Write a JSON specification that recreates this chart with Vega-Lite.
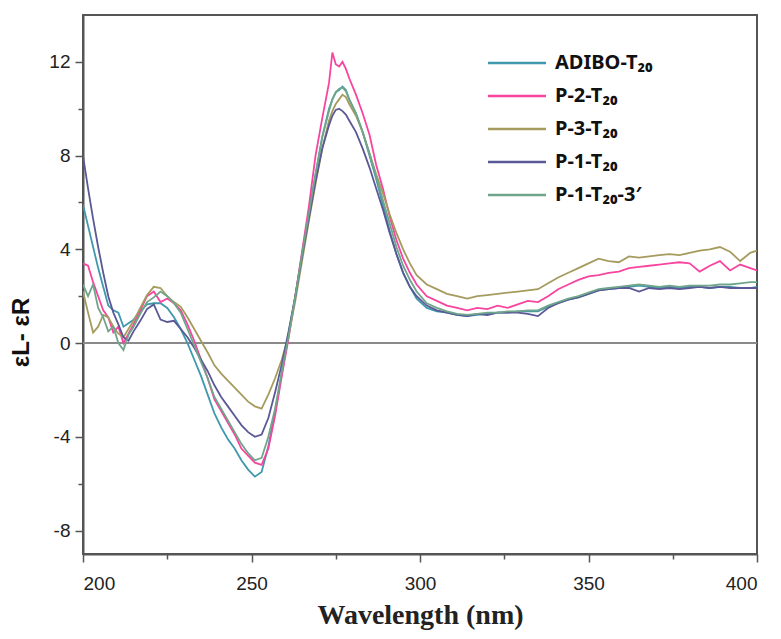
{
  "$schema": "https://vega.github.io/schema/vega-lite/v6.json",
  "width": 674,
  "height": 539,
  "autosize": "none",
  "padding": {"left": 83, "top": 15, "right": 24, "bottom": 85},
  "background": "white",
  "view": {"stroke": "#555555", "strokeWidth": 2},
  "data": {"values": [
    {"x":200,"A":5.9,"B":3.4,"C":2.2,"D":8.0,"E":2.5},
    {"x":201.5,"A":5.0,"B":3.3,"C":1.3,"D":6.6,"E":2.0},
    {"x":203,"A":4.1,"B":2.6,"C":0.45,"D":5.3,"E":2.5},
    {"x":204.5,"A":3.2,"B":2.0,"C":0.7,"D":4.1,"E":1.5},
    {"x":206,"A":2.4,"B":1.4,"C":1.2,"D":3.0,"E":1.1},
    {"x":207.5,"A":1.6,"B":1.1,"C":1.1,"D":2.0,"E":0.5},
    {"x":209,"A":1.4,"B":0.45,"C":0.7,"D":1.3,"E":0.7},
    {"x":210.5,"A":1.3,"B":0.7,"C":0.4,"D":0.8,"E":0.0},
    {"x":212,"A":0.7,"B":0.0,"C":0.25,"D":0.25,"E":-0.3},
    {"x":213.5,"A":0.85,"B":0.4,"C":0.6,"D":0.1,"E":0.35},
    {"x":215,"A":1.0,"B":0.8,"C":0.95,"D":0.5,"E":0.7},
    {"x":217,"A":1.35,"B":1.4,"C":1.5,"D":0.95,"E":1.25},
    {"x":219,"A":1.65,"B":2.0,"C":2.05,"D":1.45,"E":1.75},
    {"x":221,"A":1.7,"B":2.2,"C":2.4,"D":1.65,"E":1.95},
    {"x":223,"A":1.7,"B":1.75,"C":2.35,"D":1.0,"E":2.2},
    {"x":225,"A":1.5,"B":1.9,"C":2.0,"D":0.9,"E":2.0},
    {"x":227,"A":1.1,"B":1.7,"C":1.75,"D":0.95,"E":1.7},
    {"x":229,"A":0.6,"B":1.4,"C":1.55,"D":0.6,"E":1.3},
    {"x":231,"A":0.0,"B":0.8,"C":1.1,"D":0.25,"E":0.6},
    {"x":233,"A":-0.7,"B":0.1,"C":0.6,"D":-0.2,"E":-0.1},
    {"x":235,"A":-1.4,"B":-0.7,"C":0.1,"D":-0.7,"E":-0.8},
    {"x":237,"A":-2.2,"B":-1.5,"C":-0.4,"D":-1.2,"E":-1.5},
    {"x":239,"A":-3.0,"B":-2.4,"C":-0.95,"D":-1.8,"E":-2.3},
    {"x":241,"A":-3.6,"B":-2.9,"C":-1.3,"D":-2.3,"E":-2.8},
    {"x":243,"A":-4.1,"B":-3.4,"C":-1.6,"D":-2.7,"E":-3.3},
    {"x":245,"A":-4.5,"B":-3.9,"C":-1.9,"D":-3.1,"E":-3.8},
    {"x":247,"A":-5.0,"B":-4.5,"C":-2.2,"D":-3.5,"E":-4.3},
    {"x":249,"A":-5.4,"B":-4.8,"C":-2.5,"D":-3.8,"E":-4.7},
    {"x":251,"A":-5.7,"B":-5.1,"C":-2.7,"D":-4.0,"E":-5.0},
    {"x":253,"A":-5.5,"B":-5.2,"C":-2.8,"D":-3.9,"E":-4.9},
    {"x":255,"A":-4.4,"B":-4.5,"C":-2.2,"D":-3.2,"E":-4.0},
    {"x":257,"A":-2.9,"B":-3.1,"C":-1.5,"D":-2.1,"E":-2.8},
    {"x":259,"A":-1.3,"B":-1.4,"C":-0.7,"D":-0.9,"E":-1.2},
    {"x":261,"A":0.4,"B":0.2,"C":0.3,"D":0.5,"E":0.3},
    {"x":263,"A":2.0,"B":2.0,"C":1.8,"D":2.0,"E":2.0},
    {"x":265,"A":3.8,"B":3.9,"C":3.5,"D":3.7,"E":3.8},
    {"x":267,"A":5.5,"B":5.8,"C":5.2,"D":5.3,"E":5.5},
    {"x":269,"A":7.2,"B":8.0,"C":6.8,"D":6.9,"E":7.2},
    {"x":271,"A":8.8,"B":9.6,"C":8.3,"D":8.3,"E":8.8},
    {"x":273,"A":10.0,"B":11.1,"C":9.5,"D":9.3,"E":9.9},
    {"x":274,"A":10.4,"B":12.4,"C":9.9,"D":9.7,"E":10.4},
    {"x":275,"A":10.7,"B":11.9,"C":10.2,"D":9.95,"E":10.7},
    {"x":276,"A":10.8,"B":11.8,"C":10.4,"D":10.0,"E":10.85},
    {"x":277,"A":10.95,"B":12.0,"C":10.6,"D":9.9,"E":10.9},
    {"x":278,"A":10.8,"B":11.7,"C":10.5,"D":9.75,"E":10.75},
    {"x":279,"A":10.4,"B":11.3,"C":10.2,"D":9.5,"E":10.4},
    {"x":281,"A":9.8,"B":10.6,"C":9.7,"D":9.0,"E":9.8},
    {"x":283,"A":9.0,"B":9.8,"C":9.0,"D":8.3,"E":9.0},
    {"x":285,"A":8.0,"B":8.9,"C":8.1,"D":7.5,"E":8.1},
    {"x":287,"A":7.0,"B":7.6,"C":7.2,"D":6.6,"E":7.1},
    {"x":289,"A":5.9,"B":6.6,"C":6.4,"D":5.7,"E":6.1},
    {"x":291,"A":4.8,"B":5.4,"C":5.5,"D":4.7,"E":5.1},
    {"x":293,"A":3.8,"B":4.4,"C":4.7,"D":3.8,"E":4.1},
    {"x":295,"A":3.0,"B":3.6,"C":4.0,"D":3.0,"E":3.3},
    {"x":297,"A":2.4,"B":3.0,"C":3.4,"D":2.4,"E":2.7},
    {"x":299,"A":1.9,"B":2.5,"C":2.9,"D":2.0,"E":2.2},
    {"x":302,"A":1.5,"B":2.0,"C":2.5,"D":1.6,"E":1.7},
    {"x":305,"A":1.35,"B":1.8,"C":2.3,"D":1.4,"E":1.5},
    {"x":308,"A":1.3,"B":1.6,"C":2.1,"D":1.3,"E":1.35},
    {"x":311,"A":1.2,"B":1.5,"C":2.0,"D":1.2,"E":1.25},
    {"x":314,"A":1.15,"B":1.4,"C":1.9,"D":1.15,"E":1.2},
    {"x":317,"A":1.2,"B":1.5,"C":2.0,"D":1.25,"E":1.25},
    {"x":320,"A":1.25,"B":1.45,"C":2.05,"D":1.2,"E":1.3},
    {"x":323,"A":1.3,"B":1.6,"C":2.1,"D":1.3,"E":1.3},
    {"x":326,"A":1.3,"B":1.5,"C":2.15,"D":1.3,"E":1.35},
    {"x":329,"A":1.35,"B":1.65,"C":2.2,"D":1.3,"E":1.35},
    {"x":332,"A":1.35,"B":1.8,"C":2.25,"D":1.25,"E":1.4},
    {"x":335,"A":1.35,"B":1.75,"C":2.3,"D":1.15,"E":1.4},
    {"x":338,"A":1.55,"B":2.0,"C":2.55,"D":1.5,"E":1.6},
    {"x":341,"A":1.7,"B":2.3,"C":2.8,"D":1.7,"E":1.75},
    {"x":344,"A":1.85,"B":2.5,"C":3.0,"D":1.85,"E":1.9},
    {"x":347,"A":1.95,"B":2.7,"C":3.2,"D":1.95,"E":2.0},
    {"x":350,"A":2.1,"B":2.85,"C":3.4,"D":2.1,"E":2.15},
    {"x":353,"A":2.25,"B":2.9,"C":3.6,"D":2.25,"E":2.3},
    {"x":356,"A":2.3,"B":3.0,"C":3.5,"D":2.3,"E":2.35},
    {"x":359,"A":2.35,"B":3.05,"C":3.45,"D":2.35,"E":2.4},
    {"x":362,"A":2.4,"B":3.2,"C":3.7,"D":2.35,"E":2.45},
    {"x":365,"A":2.45,"B":3.25,"C":3.65,"D":2.2,"E":2.5},
    {"x":368,"A":2.4,"B":3.3,"C":3.7,"D":2.35,"E":2.45},
    {"x":371,"A":2.35,"B":3.35,"C":3.75,"D":2.3,"E":2.4},
    {"x":374,"A":2.4,"B":3.4,"C":3.8,"D":2.35,"E":2.45},
    {"x":377,"A":2.35,"B":3.45,"C":3.75,"D":2.3,"E":2.4},
    {"x":380,"A":2.4,"B":3.4,"C":3.85,"D":2.35,"E":2.45},
    {"x":383,"A":2.4,"B":3.05,"C":3.95,"D":2.4,"E":2.45},
    {"x":386,"A":2.35,"B":3.3,"C":4.0,"D":2.35,"E":2.45},
    {"x":389,"A":2.4,"B":3.5,"C":4.1,"D":2.4,"E":2.5},
    {"x":392,"A":2.4,"B":3.1,"C":3.9,"D":2.35,"E":2.5},
    {"x":395,"A":2.35,"B":3.35,"C":3.5,"D":2.35,"E":2.55},
    {"x":398,"A":2.35,"B":3.2,"C":3.85,"D":2.35,"E":2.6},
    {"x":400,"A":2.4,"B":3.1,"C":3.95,"D":2.35,"E":2.6}
  ]},
  "layer": [
    {
      "data": {"values": [{}]},
      "mark": {"type": "rule", "color": "#8a8a8a", "strokeWidth": 2},
      "encoding": {"y": {"datum": 0, "type": "quantitative"}}
    },
    {
      "transform": [{"fold": ["A", "B", "C", "D", "E"], "as": ["s", "y"]}],
      "mark": {"type": "line", "strokeWidth": 1.8, "clip": true},
      "encoding": {
        "x": {
          "field": "x", "type": "quantitative",
          "scale": {"domain": [200, 400], "nice": false, "zero": false},
          "axis": {
            "values": [200, 225, 250, 275, 300, 325, 350, 375, 400],
            "labelExpr": "datum.value % 50 === 0 ? datum.label : ''",
            "tickSize": {"condition": {"test": "datum.value % 50 === 0", "value": 8}, "value": 5},
            "tickColor": "#555555", "tickWidth": 1.5,
            "domainColor": "#555555", "domainWidth": 2,
            "grid": false,
            "labelFont": "Liberation Sans", "labelFontSize": 19, "labelColor": "#222222",
            "labelPadding": 12,
            "title": "Wavelength (nm)",
            "titleFont": "Liberation Serif", "titleFontSize": 28, "titleFontWeight": "bold",
            "titleColor": "#222222", "titlePadding": 8
          }
        },
        "y": {
          "field": "y", "type": "quantitative",
          "scale": {"domain": [-9, 14], "nice": false, "zero": false},
          "axis": {
            "values": [-8, -6, -4, -2, 0, 2, 4, 6, 8, 10, 12],
            "labelExpr": "datum.value % 4 === 0 ? '' + datum.value : ''",
            "tickSize": {"condition": {"test": "datum.value % 4 === 0", "value": 8}, "value": 5},
            "tickColor": "#555555", "tickWidth": 1.5,
            "domainColor": "#555555", "domainWidth": 2,
            "grid": false,
            "labelFont": "Liberation Sans", "labelFontSize": 19, "labelColor": "#222222",
            "labelPadding": 5,
            "title": "εL- εR",
            "titleFont": "Liberation Sans", "titleFontSize": 24, "titleFontWeight": "bold",
            "titleColor": "#111111",
            "titleX": -50, "titleY": 317
          }
        },
        "color": {
          "field": "s", "type": "nominal",
          "scale": {
            "domain": ["A", "B", "C", "D", "E"],
            "range": ["#3f98ad", "#f7459f", "#a69b5f", "#5a5896", "#6fa58a"]
          },
          "legend": {
            "title": null,
            "orient": "none",
            "legendX": 423,
            "legendY": 37,
            "padding": 0,
            "symbolType": "M-3,0H3",
            "symbolSize": 374,
            "symbolStrokeWidth": 2.5,
            "labelOffset": 27,
            "rowPadding": 12,
            "labelFont": "Noto Sans",
            "labelFontSize": 20,
            "labelFontWeight": "bold",
            "labelColor": "#111111",
            "labelExpr": "datum.label === 'A' ? 'ADIBO-T₂₀' : datum.label === 'B' ? 'P-2-T₂₀' : datum.label === 'C' ? 'P-3-T₂₀' : datum.label === 'D' ? 'P-1-T₂₀' : 'P-1-T₂₀-3′'"
          }
        }
      }
    }
  ]
}
